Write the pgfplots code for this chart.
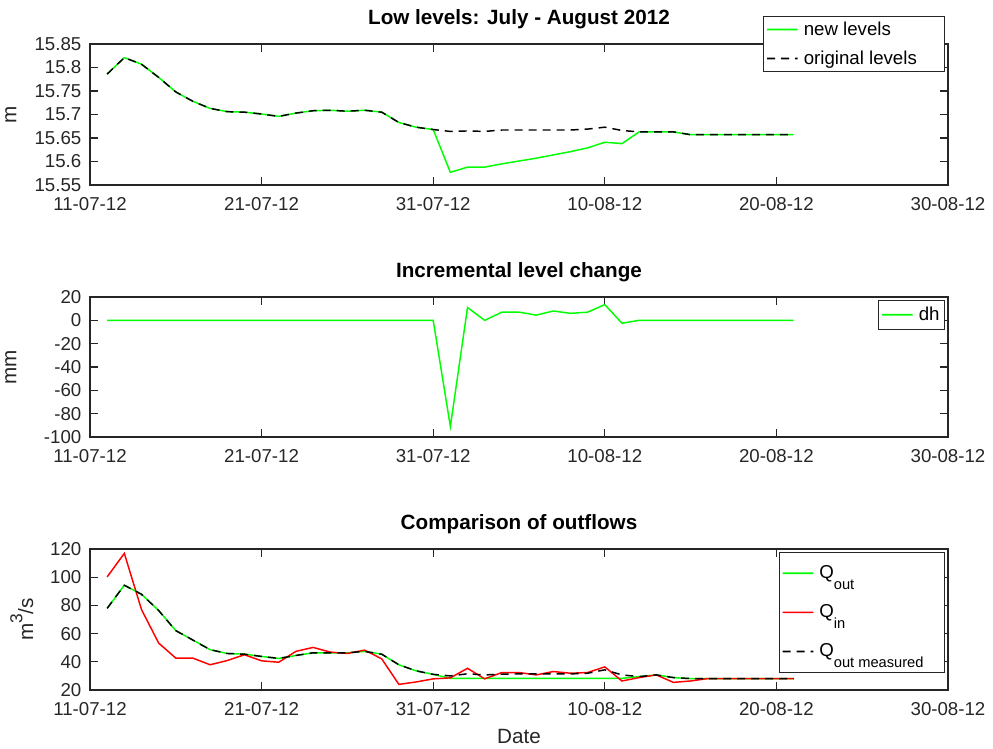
\documentclass[border=0pt]{standalone}
\usepackage{pgfplots}
\pgfplotsset{compat=1.18}
\usepackage{pgfplotstable}
\usepackage{fontspec}
\setmainfont{Liberation Sans}

\pgfplotstableread{
day orig new dh qout qin qmeas
1 15.786 15.786 0 77.9 100.2 77.9
2 15.821 15.821 0 94.3 116.9 94.3
3 15.807 15.807 0 87.9 77.1 87.9
4 15.779 15.779 0 76.4 53.3 76.4
5 15.748 15.748 0 62.1 42.6 62.1
6 15.728 15.728 0 55.4 42.6 55.4
7 15.713 15.713 0 48.6 37.9 48.6
8 15.706 15.706 0 45.9 40.9 45.9
9 15.705 15.705 0 45.4 45.0 45.4
10 15.701 15.701 0 43.8 40.7 43.8
11 15.696 15.696 0 42.4 39.7 42.4
12 15.703 15.703 0 44.5 47.4 44.5
13 15.708 15.708 0 46.4 50.2 46.4
14 15.709 15.709 0 46.4 46.9 46.4
15 15.707 15.707 0 46.4 45.9 46.4
16 15.709 15.709 0 47.4 48.3 47.4
17 15.705 15.705 0 45.4 42.1 45.4
18 15.683 15.683 0 37.9 24.0 37.9
19 15.673 15.673 0 33.6 25.7 33.6
20 15.668 15.668 0 31.1 27.9 31.1
21 15.664 15.577 -91 28.3 28.6 30.0
22 15.665 15.588 11 28.3 35.4 31.5
23 15.664 15.588 0 28.3 27.9 30.7
24 15.667 15.595 7 28.3 32.4 31.2
25 15.667 15.601 7 28.3 32.4 31.4
26 15.667 15.607 4.5 28.3 30.7 31.4
27 15.667 15.614 8 28.3 33.1 31.4
28 15.667 15.621 6 28.3 31.9 31.4
29 15.669 15.629 7 28.3 32.4 31.9
30 15.673 15.641 13.5 28.3 36.4 34.3
31 15.666 15.638 -2.5 28.3 26.4 30.7
32 15.663 15.663 0 29.5 28.8 29.5
33 15.663 15.663 0 30.7 30.7 30.7
34 15.663 15.663 0 28.8 25.4 28.8
35 15.657 15.657 0 28.1 26.4 28.1
36 15.657 15.657 0 28.1 28.1 28.1
37 15.657 15.657 0 28.1 28.1 28.1
38 15.657 15.657 0 28.1 28.1 28.1
39 15.657 15.657 0 28.1 28.1 28.1
40 15.657 15.657 0 28.1 28.1 28.1
41 15.657 15.657 0 28.1 28.1 28.1
}\datatable

\definecolor{axgray}{RGB}{38,38,38}
\definecolor{lgreen}{RGB}{0,255,0}

\pgfplotsset{
  myaxis/.style={
    scale only axis,
    width=643.5pt, height=105.75pt,
    xmin=0, xmax=50,
    xtick={0,10,20,30,40,50},
    xticklabels={11-07-12,21-07-12,31-07-12,10-08-12,20-08-12,30-08-12},
    axis line style={axgray, line width=0.9pt},
    major tick style={axgray, line width=0.9pt},
    major tick length=6pt,
    tick align=inside,
    ticklabel style={font=\fontsize{14}{16}\selectfont, text=axgray},
    xticklabel style={yshift=-6pt},
    yticklabel style={xshift=-3pt},
    title style={font=\fontsize{15.5}{18}\selectfont\bfseries, at={(axis description cs:0.5,1.083)}, anchor=base},
    label style={font=\fontsize{15.5}{18}\selectfont, text=axgray},
    legend style={font=\fontsize{14}{16}\selectfont, draw=axgray, line width=0.8pt, fill=white, inner xsep=2pt, inner ysep=3pt},
    legend cell align=left,
    legend image code/.code={\draw[#1, line width=1.3pt] (0pt,0pt) -- (11.5pt,0.01pt) -- (23pt,0pt); \path (25pt,0pt);},
  },
  greenline/.style={draw=lgreen, line width=1.1pt},
  redline/.style={draw=red, line width=1.1pt},
  dashblack/.style={draw=black, dash pattern=on 6pt off 4.5pt, line width=1.1pt},
}

\newcommand{\sub}[1]{\raisebox{-8pt}{\fontsize{11}{11}\selectfont #1}}

\begin{document}
\begin{tikzpicture}
\path[use as bounding box] (0,0) rectangle (744.75pt,-561.75pt);

% Top axis
\begin{axis}[myaxis,
  at={(67.5pt,-33pt)}, anchor=north west,
  ymin=15.55, ymax=15.85,
  ytick={15.55,15.6,15.65,15.7,15.75,15.8,15.85},
  yticklabels={15.55,15.6,15.65,15.7,15.75,15.8,15.85},
  title={Low levels: July - August 2012},
  ylabel={m},
  ylabel style={at={(axis description cs:-0.0804,0.5)}, anchor=south},
  legend style={at={(axis description cs:0.997,1.199)}, anchor=north east, row sep=6pt, inner ysep=2pt},
]
\addplot[greenline] table[x=day, y=new] {\datatable};
\addlegendentry{new levels}
\addplot[dashblack] table[x=day, y=orig] {\datatable};
\addlegendentry{original levels\hspace*{17pt}}
\end{axis}

% Middle axis
\begin{axis}[myaxis,
  at={(67.5pt,-222.75pt)}, anchor=north west,
  height=105pt,
  ymin=-100, ymax=20,
  ytick={-100,-80,-60,-40,-20,0,20},
  yticklabels={-100,-80,-60,-40,-20,0,20},
  title={Incremental level change},
  ylabel={mm},
  ylabel style={at={(axis description cs:-0.0804,0.5)}, anchor=south},
  legend style={at={(axis description cs:0.997,0.98)}, anchor=north east},
]
\addplot[greenline] table[x=day, y=dh] {\datatable};
\addlegendentry{dh}
\end{axis}

% Bottom axis
\begin{axis}[myaxis,
  at={(67.5pt,-411.75pt)}, anchor=north west,
  ymin=20, ymax=120,
  ytick={20,40,60,80,100,120},
  yticklabels={20,40,60,80,100,120},
  title={Comparison of outflows},
  ylabel={m\raisebox{8pt}{\fontsize{13}{13}\selectfont 3}/s},
  ylabel style={at={(axis description cs:-0.0606,0.5)}, anchor=south},
  xlabel={Date},
  xlabel style={at={(axis description cs:0.5,-0.33)}, anchor=center},
  legend style={at={(axis description cs:0.997,0.979)}, anchor=north east, row sep=14pt, inner ysep=8pt},
]
\addplot[greenline] table[x=day, y=qout] {\datatable};
\addlegendentry{Q\sub{out}}
\addplot[redline] table[x=day, y=qin] {\datatable};
\addlegendentry{Q\sub{in}}
\addplot[dashblack] table[x=day, y=qmeas] {\datatable};
\addlegendentry{Q\sub{out measured}\hspace*{12pt}}
\end{axis}
\end{tikzpicture}
\end{document}
